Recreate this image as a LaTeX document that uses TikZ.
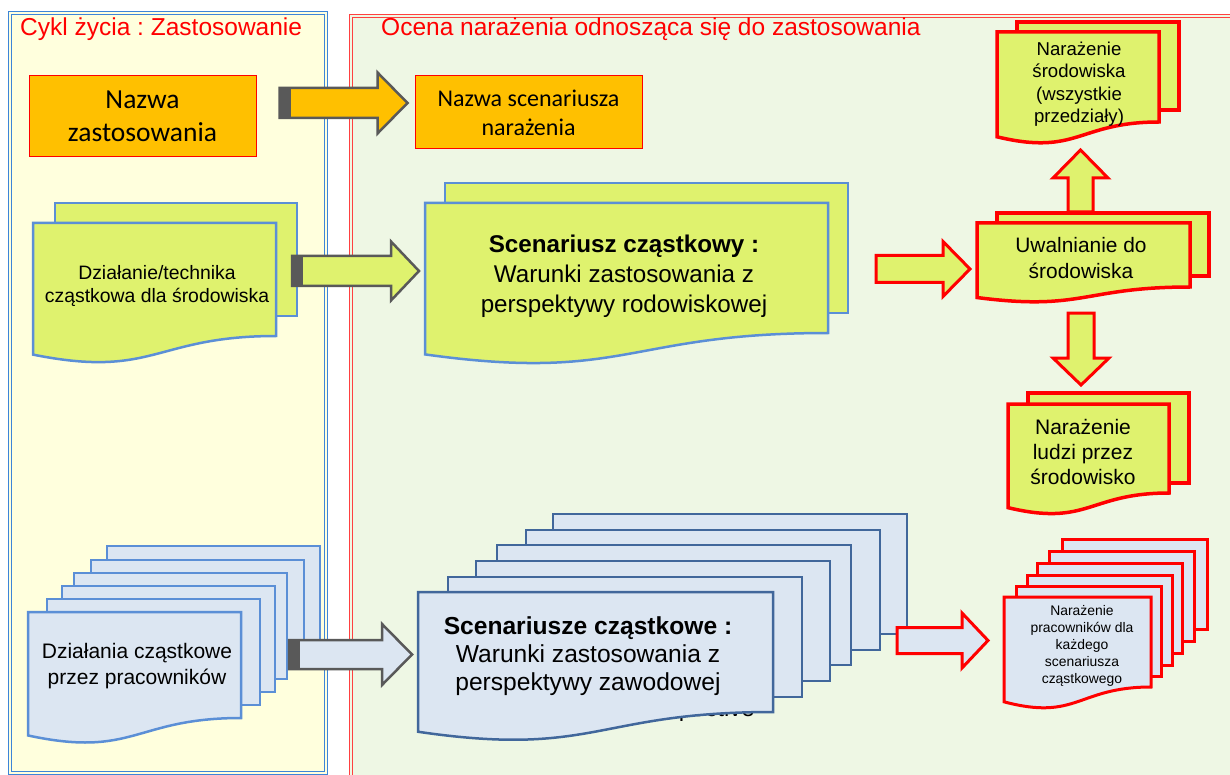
\documentclass[tikz,border=0pt]{standalone}
\usepackage{fontspec}
\setmainfont{Liberation Sans}
\newfontfamily\calibrifont{Carlito}
\usepackage{tikz}
\usetikzlibrary{calc}
\frenchspacing
\definecolor{panelYellow}{HTML}{FFFFDD}
\definecolor{panelGreen}{HTML}{EEF7E4}
\definecolor{frameBlue}{HTML}{3D85D8}
\definecolor{frameRed}{HTML}{FF4040}
\definecolor{ygFill}{HTML}{DFF26E}
\definecolor{lightBlue}{HTML}{DCE6F2}
\definecolor{docBlue}{HTML}{5B8FD6}
\definecolor{docDark}{HTML}{41679B}
\definecolor{arrowGray}{HTML}{595959}
\definecolor{orangeFill}{HTML}{FFC000}
\tikzset{
    panel_blue/.style={draw=frameBlue, line width=0.9pt},   % 左侧面板双线
    panel_red/.style={draw=frameRed, line width=0.9pt},     % 右侧面板双线
    title_text/.style={anchor=base west, text=red, inner sep=0pt,
        font=\fontsize{24.5}{29}\selectfont},
    name_box/.style={draw=red, line width=1pt, fill=orangeFill,
        align=center, inner sep=0pt},
    page_frame/.style={inner sep=0pt, outer sep=0pt, anchor=north west},
    page_yg_blue/.style={draw=docBlue, line width=2.5pt, fill=ygFill},
    page_yg_red/.style={draw=red, line width=3.5pt, fill=ygFill},
    page_lb_blue/.style={draw=docBlue, line width=2.5pt, fill=lightBlue},
    page_lb_dark/.style={draw=docDark, line width=2.5pt, fill=lightBlue},
    page_lb_red/.style={draw=red, line width=3pt, fill=lightBlue},
    block_gray/.style={draw=arrowGray, line width=2.5pt},
    block_red/.style={draw=red, line width=3pt},
    arrow_tail/.style={fill=arrowGray},
    doc_text/.style={align=center, inner sep=0pt}
}
% 文档形状 (下边为波浪线)
\newcommand{\docpage}[6]{% #1 样式, #2 名称, #3 x, #4 y, #5 宽, #6 高
    \node[page_frame, minimum width=#5, minimum height=#6] (#2) at (#3,#4) {};
    \draw[#1] (#2.north west) -- (#2.north east) -- (#2.south east)
        .. controls (#2.south) and ($(#2.south)+(0,0.381*#6)$) ..
        ($(#2.south west)+(0,0.1646*#6)$) -- cycle;
}
% 块状箭头
\newcommand{\blockarrow}[6]{% #1 样式, #2 起点, #3 终点, #4 杆半宽, #5 头半宽, #6 头长
    \coordinate (ba_s) at #2;
    \coordinate (ba_e) at #3;
    \coordinate (ba_h) at ($(ba_e)!#6!(ba_s)$);
    \draw[#1] ($(ba_s)!#4!90:(ba_e)$) -- ($(ba_h)!#4!90:(ba_e)$)
        -- ($(ba_h)!#5!90:(ba_e)$) -- (ba_e) -- ($(ba_h)!#5!-90:(ba_e)$)
        -- ($(ba_h)!#4!-90:(ba_e)$) -- ($(ba_s)!#4!-90:(ba_e)$) -- cycle;
}
% 箭头尾部的深色块
\newcommand{\arrowtail}[2]{% #1 长度, #2 半宽
    \coordinate (ba_t) at ($(ba_s)!#1!(ba_e)$);
    \fill[arrow_tail] ($(ba_s)!#2!90:(ba_e)$) -- ($(ba_t)!#2!90:(ba_e)$)
        -- ($(ba_t)!#2!-90:(ba_e)$) -- ($(ba_s)!#2!-90:(ba_e)$) -- cycle;
}

\begin{document}
\begin{tikzpicture}[x=1pt, y=-1pt]
    \useasboundingbox (0,0) rectangle (1230,775);
    \clip (0,0) rectangle (1230,775);

    % 1. 两个面板
    \fill[panelYellow] (8,11) rectangle (327,774);
    \draw[panel_blue] (8,11) rectangle (327,774);
    \draw[panel_blue] (11,14) rectangle (324,771);
    \fill[panelGreen] (349,14) rectangle (1240,790);
    \draw[panel_red] (349,14) rectangle (1240,790);
    \draw[panel_red] (352,17) rectangle (1237,787);
    \node[title_text] (cykl) at (20,36) {Cykl życia : Zastosowanie};
    \node[title_text] (ocena) at (381,36) {Ocena narażenia odnosząca się do zastosowania};

    % 2. 名称
    \node[name_box, minimum width=227, minimum height=81,
        font=\calibrifont\fontsize{27.5}{33}\selectfont] (nazwa) at (142.5,116.5) {Nazwa\\zastosowania};
    \node[name_box, minimum width=227, minimum height=73,
        font=\calibrifont\fontsize{24}{29}\selectfont] (scen_nazwa) at (528.5,112.5) {Nazwa scenariusza\\narażenia};
    \blockarrow{block_gray, fill=orangeFill}{($(nazwa.east)+(23,-13.5)$)}{($(scen_nazwa.west)+(-7,-9.5)$)}{15pt}{30.5pt}{30pt}
    \arrowtail{11pt}{16.2pt}

    % 3. 环境
    \draw[page_yg_blue] (55,203) rectangle ++(242,113);
    \docpage{page_yg_blue}{dzialanie}{33}{223}{243}{113}
    \draw[page_yg_blue] (445,183) rectangle ++(403,130);
    \docpage{page_yg_blue}{scenariusz}{425}{203}{403}{130}
    \blockarrow{block_gray, fill=ygFill}{($(dzialanie.east)+(16,-8.5)$)}{($(scenariusz.west)+(-6,3)$)}{15pt}{29.5pt}{28pt}
    \arrowtail{11pt}{16.2pt}

    \draw[page_yg_red] (1017,22) rectangle ++(162,88);
    \docpage{page_yg_red}{srodowisko}{997}{32}{162}{90}
    \draw[page_yg_red] (997,213) rectangle ++(212,63);
    \docpage{page_yg_red}{uwalnianie}{977}{223}{213}{64}
    \draw[page_yg_red] (1028,393) rectangle ++(161,90);
    \docpage{page_yg_red}{ludzie}{1008}{404}{161}{89}
    \blockarrow{block_red, fill=ygFill}{($(scenariusz.east)+(48,1)$)}{($(uwalnianie.west)+(-7,14)$)}{13.5pt}{27.5pt}{27pt}
    \blockarrow{block_red, fill=ygFill}{($(uwalnianie.north)+(-3,-11)$)}{($(srodowisko.south)+(2.5,28)$)}{12.5pt}{27.5pt}{28pt}
    \blockarrow{block_red, fill=ygFill}{($(uwalnianie.south)+(-2.5,26)$)}{($(ludzie.north)+(-7.5,-19)$)}{13pt}{28pt}{27pt}

    % 4. 工人
    \foreach \px/\py in {107/546, 91/560, 74/573, 62/586, 47/599}
        \draw[page_lb_blue] (\px,\py) rectangle ++(213,106);
    \docpage{page_lb_blue}{pracownicy}{28}{612}{213}{106}
    \foreach \px/\py in {553/514, 526/530, 497/545, 476/561, 448/577}
        \draw[page_lb_dark] (\px,\py) rectangle ++(354,120);
    \node[doc_text, anchor=base east, font=\fontsize{24}{28}\selectfont] (ukryty) at (755,716) {perspective};
    \docpage{page_lb_dark}{scenariusze}{418}{592}{355}{120}
    \blockarrow{block_gray, fill=lightBlue}{($(pracownicy.east)+(48,-10.5)$)}{($(scenariusze.west)+(-6,2.5)$)}{14.5pt}{30.5pt}{30pt}
    \arrowtail{11pt}{15.7pt}

    \foreach \px/\py in {1062/539, 1049/551, 1037/563, 1027/575, 1016/586}
        \draw[page_lb_red] (\px,\py) rectangle ++(145,90);
    \docpage{page_lb_red}{narazenie}{1004}{597}{147}{90}
    \blockarrow{block_red, fill=lightBlue}{($(scenariusze.east)+(124,-11.5)$)}{($(narazenie.west)+(-16,-1.5)$)}{13pt}{27.5pt}{26pt}

    % 5. 文字
    \node[doc_text, font=\fontsize{19.4}{23}\selectfont] (dzialanie_txt) at ($(dzialanie)+(2.5,6.5)$) {Działanie/technika\\cząstkowa dla środowiska};
    \node[doc_text, font=\fontsize{24.2}{30}\selectfont] (scenariusz_txt) at ($(scenariusz)+(-2.5,8)$) {\textbf{Scenariusz cząstkowy :}\\Warunki zastosowania z\\perspektywy rodowiskowej};
    \node[doc_text, font=\fontsize{18.6}{22.5}\selectfont] (srodowisko_txt) at ($(srodowisko)+(1,7)$) {Narażenie\\środowiska\\ (wszystkie\\przedziały)};
    \node[doc_text, font=\fontsize{20.9}{26}\selectfont] (uwalnianie_txt) at ($(uwalnianie)+(-2.5,3)$) {Uwalnianie do\\środowiska};
    \node[doc_text, font=\fontsize{21}{25}\selectfont] (ludzie_txt) at ($(ludzie)+(-5.5,3.5)$) {Narażenie\\ludzi przez\\środowisko};
    \node[doc_text, font=\fontsize{21}{26}\selectfont] (pracownicy_txt) at ($(pracownicy)+(2.5,1)$) {Działania cząstkowe\\przez pracowników};
    \node[doc_text, font=\fontsize{24.6}{28}\selectfont] (scenariusze_txt) at ($(scenariusze)+(-7.5,4)$) {\textbf{Scenariusze cząstkowe :}\\Warunki zastosowania z\\perspektywy zawodowej};
    \node[doc_text, font=\fontsize{13.9}{17}\selectfont] (narazenie_txt) at ($(narazenie)+(4.5,4)$) {Narażenie\\pracowników dla\\każdego\\scenariusza\\cząstkowego};
\end{tikzpicture}
\end{document}
